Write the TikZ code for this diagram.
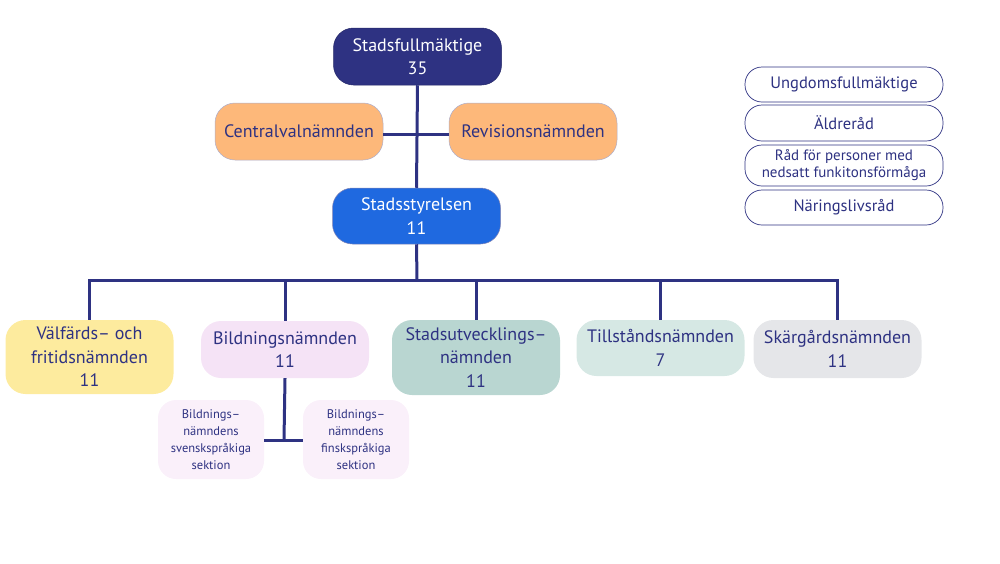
\documentclass[tikz,border=0pt]{standalone}
\usepackage{fontspec}
\setmainfont{PT Sans}
\definecolor{navy}{HTML}{2E3282}
\definecolor{cblue}{HTML}{1F69E0}
\definecolor{corange}{HTML}{FDB87A}
\definecolor{cyellow}{HTML}{FDEB9E}
\definecolor{cpink}{HTML}{F5E3F6}
\definecolor{cpinkl}{HTML}{FAF0FA}
\definecolor{cteal}{HTML}{B9D6D1}
\definecolor{cteall}{HTML}{D6E8E4}
\definecolor{cgray}{HTML}{E5E6E9}
\tikzset{
  box/.style={rounded corners=20pt, inner sep=0pt, align=center, text=navy,
    font=\fontsize{18}{23.5}\selectfont, minimum width=168pt, minimum height=57pt},
  sidebox/.style={rounded corners=17pt, draw=navy, line width=0.7pt, fill=white, inner sep=0pt,
    align=center, text=navy, minimum width=198pt, font=\fontsize{16.5}{17}\selectfont},
  subbox/.style={rounded corners=18pt, fill=cpinkl, inner sep=0pt, align=center, text=navy,
    minimum width=106pt, minimum height=79pt, font=\fontsize{12.5}{17}\selectfont},
  link/.style={draw=navy, line width=3pt}
}
\begin{document}
\begin{tikzpicture}[x=1pt,y=-1pt]
\useasboundingbox (0,0) rectangle (1000,563);
\coordinate (v1) at (417,134);
\coordinate (bar) at (417,280);
\coordinate (sb) at (284,440);

\node[box, fill=navy, text=white, draw=navy!80!black, line width=0.5pt] (sf) at (417.5,56.5) {Stadsfullmäktige\\35};
\node[box, fill=corange, draw=navy!40, line width=0.5pt] (cv) at (299,131.5) {Centralvalnämnden};
\node[box, fill=corange, draw=navy!40, line width=0.5pt] (rv) at (533,131.5) {Revisionsnämnden};
\node[box, fill=cblue, text=white, draw=navy!60, line width=0.5pt, minimum height=56pt] (ss) at (416.5,216) {Stadsstyrelsen\\11};

\node[box, fill=cyellow, minimum height=74pt] (vf) at (89.5,357) {Välfärds– och\\fritidsnämnden\\11};
\node[box, fill=cpink] (bn) at (285,349.5) {Bildningsnämnden\\11};
\node[box, fill=cteal, minimum height=75pt] (su) at (476,357.5) {Stadsutvecklings–\\nämnden\\11};
\node[box, fill=cteall, minimum height=56pt] (tn) at (660.5,348) {Tillståndsnämnden\\7};
\node[box, fill=cgray, minimum height=58pt] (sk) at (837.5,349) {Skärgårdsnämnden\\11};

\node[subbox] (bsv) at (211,439.5) {Bildnings–\\nämndens\\svenskspråkiga\\sektion};
\node[subbox] (bfi) at (356,439.5) {Bildnings–\\nämndens\\finskspråkiga\\sektion};

\node[sidebox, minimum height=35pt] (uf) at (844,84.5) {Ungdomsfullmäktige};
\node[sidebox, minimum height=36pt] (ar) at (844,123) {Äldreråd};
\node[sidebox, minimum height=41pt, font=\fontsize{15}{17}\selectfont] (rp) at (844,165.5) {Råd för personer med\\nedsatt funkitonsförmåga};
\node[sidebox, minimum height=35pt] (nr) at (844,207.5) {Näringslivsråd};

\draw[link] (sf.south) -- (ss.north);
\draw[link] (cv.east |- v1) -- (rv.west |- v1);
\draw[link] (ss.south) -- (bar);
\draw[link, line cap=rect] (vf.north |- bar) -- (sk.north |- bar);
\draw[link] (vf.north |- bar) -- (vf.north);
\draw[link] (bn.north |- bar) -- (bn.north);
\draw[link] (su.north |- bar) -- (su.north);
\draw[link] (tn.north |- bar) -- (tn.north);
\draw[link] (sk.north |- bar) -- (sk.north);
\draw[link] (bn.south) -- (sb);
\draw[link] (bsv.east |- sb) -- (bfi.west |- sb);
\end{tikzpicture}
\end{document}
